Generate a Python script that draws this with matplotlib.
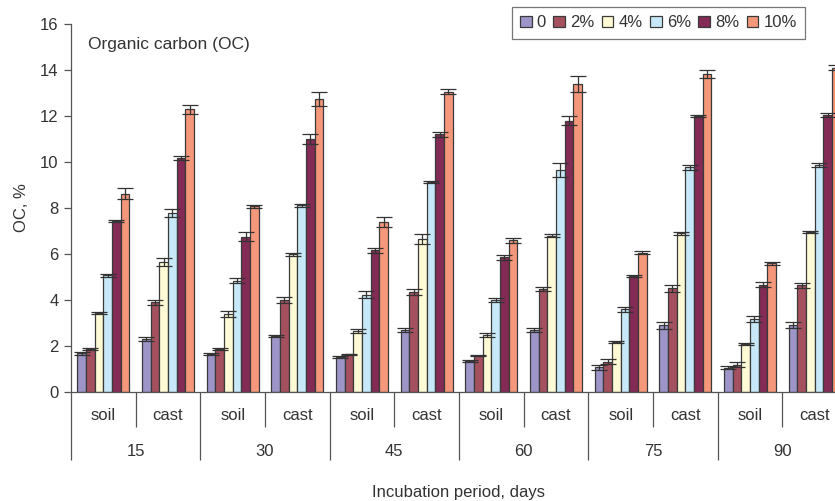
import numpy as np
from matplotlib import pyplot as plt

# Incubation periods (days) and sample types
periods = ["15", "30", "45", "60", "75", "90"]
samples = ["soil", "cast"]
doses = ["0", "2%", "4%", "6%", "8%", "10%"]

# OC, % -- order: 15 soil, 15 cast, 30 soil, 30 cast, ... 90 cast
oc_0 = [1.68, 2.30, 1.64, 2.45, 1.53, 2.70, 1.35, 2.70, 1.07, 2.90, 1.06, 2.91]
oc_2 = [1.87, 3.90, 1.87, 3.99, 1.64, 4.35, 1.58, 4.48, 1.32, 4.51, 1.19, 4.64]
oc_4 = [3.45, 5.64, 3.39, 5.99, 2.65, 6.65, 2.48, 6.80, 2.16, 6.90, 2.09, 6.97]
oc_6 = [5.07, 7.80, 4.84, 8.12, 4.22, 9.12, 4.00, 9.65, 3.60, 9.77, 3.17, 9.87]
oc_8 = [7.45, 10.17, 6.75, 11.00, 6.16, 11.20, 5.85, 11.80, 5.04, 12.00, 4.67, 12.04]
oc_10 = [8.62, 12.30, 8.07, 12.74, 7.40, 13.06, 6.60, 13.40, 6.06, 13.81, 5.60, 14.10]

# standard errors
se_0 = [0.08, 0.10, 0.05, 0.05, 0.03, 0.10, 0.05, 0.08, 0.10, 0.15, 0.05, 0.13]
se_2 = [0.05, 0.10, 0.03, 0.12, 0.03, 0.15, 0.03, 0.08, 0.10, 0.15, 0.10, 0.12]
se_4 = [0.05, 0.17, 0.15, 0.07, 0.08, 0.20, 0.08, 0.05, 0.05, 0.07, 0.05, 0.05]
se_6 = [0.05, 0.17, 0.12, 0.07, 0.15, 0.05, 0.10, 0.30, 0.10, 0.12, 0.12, 0.08]
se_8 = [0.05, 0.08, 0.20, 0.20, 0.10, 0.12, 0.12, 0.20, 0.03, 0.05, 0.10, 0.10]
se_10 = [0.24, 0.20, 0.08, 0.30, 0.22, 0.10, 0.10, 0.35, 0.05, 0.17, 0.07, 0.10]

series = [oc_0, oc_2, oc_4, oc_6, oc_8, oc_10]
errors = [se_0, se_2, se_4, se_6, se_8, se_10]
colors = ["#9d94c8", "#a5505f", "#fffad6", "#c6e8f8", "#832a55", "#f4977a"]

plt.rcParams['font.family'] = ['Liberation Sans', 'DejaVu Sans']
plt.rcParams['font.size'] = 12

fig = plt.figure(figsize=(8.35, 5.01), dpi=100)
# axes runs slightly past the right edge of the canvas
ax = fig.add_axes([71/835, 109/501, 776/835, 368/501])

n_cat = len(periods) * len(samples)
centers = np.arange(n_cat) + 0.5
width = 0.134
for k in range(len(doses)):
    offs = (k - (len(doses) - 1) / 2) * width
    ax.bar(centers + offs, series[k], width, yerr=errors[k], color=colors[k],
           edgecolor="#3a3a3a", linewidth=0.9, label=doses[k],
           error_kw=dict(ecolor="#333333", elinewidth=0.9, capsize=5.5, capthick=0.9))

ax.set_xlim(0, n_cat)
ax.set_ylim(0, 16)
ax.set_yticks(np.arange(0, 17, 2))
ax.tick_params(axis='y', direction='out', length=5, width=0.9, color="#555555",
               labelcolor="#333333", labelsize=12, pad=4)

# grouped category axis: long ticks between periods, short ticks between soil/cast
ax.set_xticks(np.arange(0, n_cat + 1, 2))
ax.set_xticks(np.arange(1, n_cat, 2), minor=True)
ax.tick_params(axis='x', which='major', direction='out', length=49, width=0.9,
               color="#555555", labelbottom=False)
ax.tick_params(axis='x', which='minor', direction='out', length=25, width=0.9,
               color="#555555", labelbottom=False)

tr = ax.get_xaxis_transform()
for i in range(n_cat):
    ax.text(centers[i], -24/368, samples[i % 2], transform=tr, ha='center',
            va='center', color="#333333", fontsize=12)
for j, p in enumerate(periods):
    ax.text(2 * j + 1, -59/368, p, transform=tr, ha='center', va='center',
            color="#333333", fontsize=12)

for s in ["top", "right"]:
    ax.spines[s].set_visible(False)
for s in ["left", "bottom"]:
    ax.spines[s].set_color("#555555")
    ax.spines[s].set_linewidth(0.9)

ax.set_ylabel("OC, %", color="#333333", fontsize=12, labelpad=8)
ax.set_xlabel("Incubation period, days", color="#333333", fontsize=12, va='center')
ax.xaxis.set_label_coords(0.5, -100/368)

fig.text(88/835, 1 - 44/501, "Organic carbon (OC)", ha='left', va='center',
         color="#333333", fontsize=12.5)

leg = fig.legend(loc='upper right', bbox_to_anchor=(805/835, 1 - 7/501), ncol=6,
                 frameon=True, fancybox=False, fontsize=12, handlelength=0.7,
                 handleheight=0.7, handletextpad=0.3, columnspacing=0.45,
                 borderpad=0.5, borderaxespad=0)
leg.get_frame().set_edgecolor("#555555")
leg.get_frame().set_linewidth(0.9)
for t in leg.get_texts():
    t.set_color("#333333")

plt.savefig("out.png", dpi=100)
